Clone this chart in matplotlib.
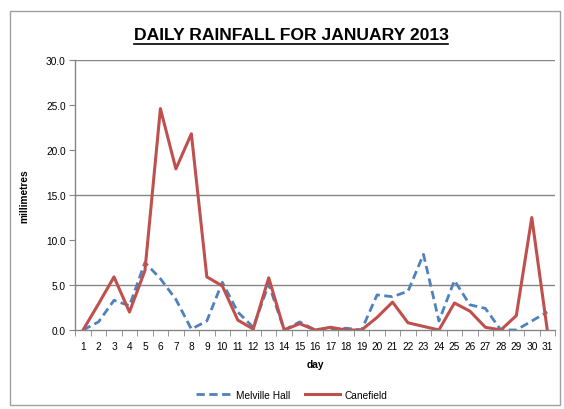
import matplotlib
matplotlib.use("Agg")
import matplotlib.pyplot as plt
from matplotlib.lines import Line2D
from matplotlib.patches import Rectangle

days = list(range(1, 32))
melville_hall = [0.0, 0.9, 3.3, 2.7, 7.5, 5.7, 3.4, 0.1, 1.0, 5.3, 2.0, 0.3, 5.1, 0.0, 0.9,
                 0.0, 0.1, 0.2, 0.0, 3.9, 3.7, 4.3, 8.4, 1.0, 5.5, 2.8, 2.4, 0.0, 0.0, 1.0, 2.0]
canefield = [0.0, 2.9, 5.9, 2.0, 6.6, 24.6, 17.9, 21.8, 5.9, 4.9, 1.1, 0.1, 5.8, 0.0, 0.7,
             0.0, 0.3, 0.0, 0.0, 1.4, 3.1, 0.8, 0.4, 0.0, 3.0, 2.1, 0.3, 0.0, 1.6, 12.5, 0.0]
y_ticks = [0, 5, 10, 15, 20, 25, 30]
title = "DAILY RAINFALL FOR JANUARY 2013"

plt.rcParams['font.family'] = ['Liberation Sans', 'DejaVu Sans']

W, H = 564, 410
fig = plt.figure(figsize=(W / 100, H / 100), dpi=100)
fig.patch.set_facecolor('white')
# chart frame
fig.add_artist(Rectangle((10 / W, 4 / H), 550 / W, (H - 12 - 4) / H, transform=fig.transFigure,
                         fill=False, edgecolor='#a0a0a0', linewidth=1.0))

ax = fig.add_axes([75.3 / W, 1 - 331 / H, (555 - 75.3) / W, (331 - 61) / H])
ax.plot(days, melville_hall, color='#4F81BD', linestyle=(0, (3, 1.6)), linewidth=2.0,
        label='Melville Hall')
ax.plot(days, canefield, color='#C0504D', linestyle='-', linewidth=2.2, label='Canefield')

ax.set_xlim(0.5, 31.5)
ax.set_ylim(0, 30)
ax.set_yticks(y_ticks)
ax.set_yticklabels([f"{v:.1f}" for v in y_ticks], fontsize=7.3)
ax.set_xticks(days)
ax.set_xticklabels([str(d) for d in days], fontsize=7.3)
ax.set_xticks([d + 0.5 for d in [0] + days], minor=True)
ax.tick_params(axis='x', which='major', length=0, pad=8)
ax.tick_params(axis='x', which='minor', length=4, color='#868686', direction='out')
ax.tick_params(axis='y', length=4, color='#868686', direction='out', pad=3)

for s in ['top', 'right']:
    ax.spines[s].set_visible(False)
for s in ['left', 'bottom']:
    ax.spines[s].set_color('#868686')
    ax.spines[s].set_linewidth(1.0)

for v in [5, 15, 30]:
    ax.axhline(v, color='#868686', linewidth=1.0, zorder=0)

ax.set_xlabel('day', fontsize=7.3, fontweight='bold', labelpad=6)
ax.set_ylabel('millimetres', fontsize=7.3, fontweight='bold', labelpad=12)

leg = fig.legend(loc='center', bbox_to_anchor=(292 / W, 1 - 396 / H), ncol=2, frameon=False,
                 fontsize=7.3, handlelength=3.4, columnspacing=1.5, handletextpad=0.5)

t = fig.text(291 / W, 1 - 36 / H, title, ha='center', va='center', fontsize=12.6,
             fontweight='bold')
fig.canvas.draw()
bb = t.get_window_extent()
uy = bb.y0 - 1
fig.add_artist(Line2D([bb.x0 / W, bb.x1 / W], [uy / H, uy / H], transform=fig.transFigure,
                      color='black', linewidth=1.2))

fig.savefig('out.png', dpi=100)
